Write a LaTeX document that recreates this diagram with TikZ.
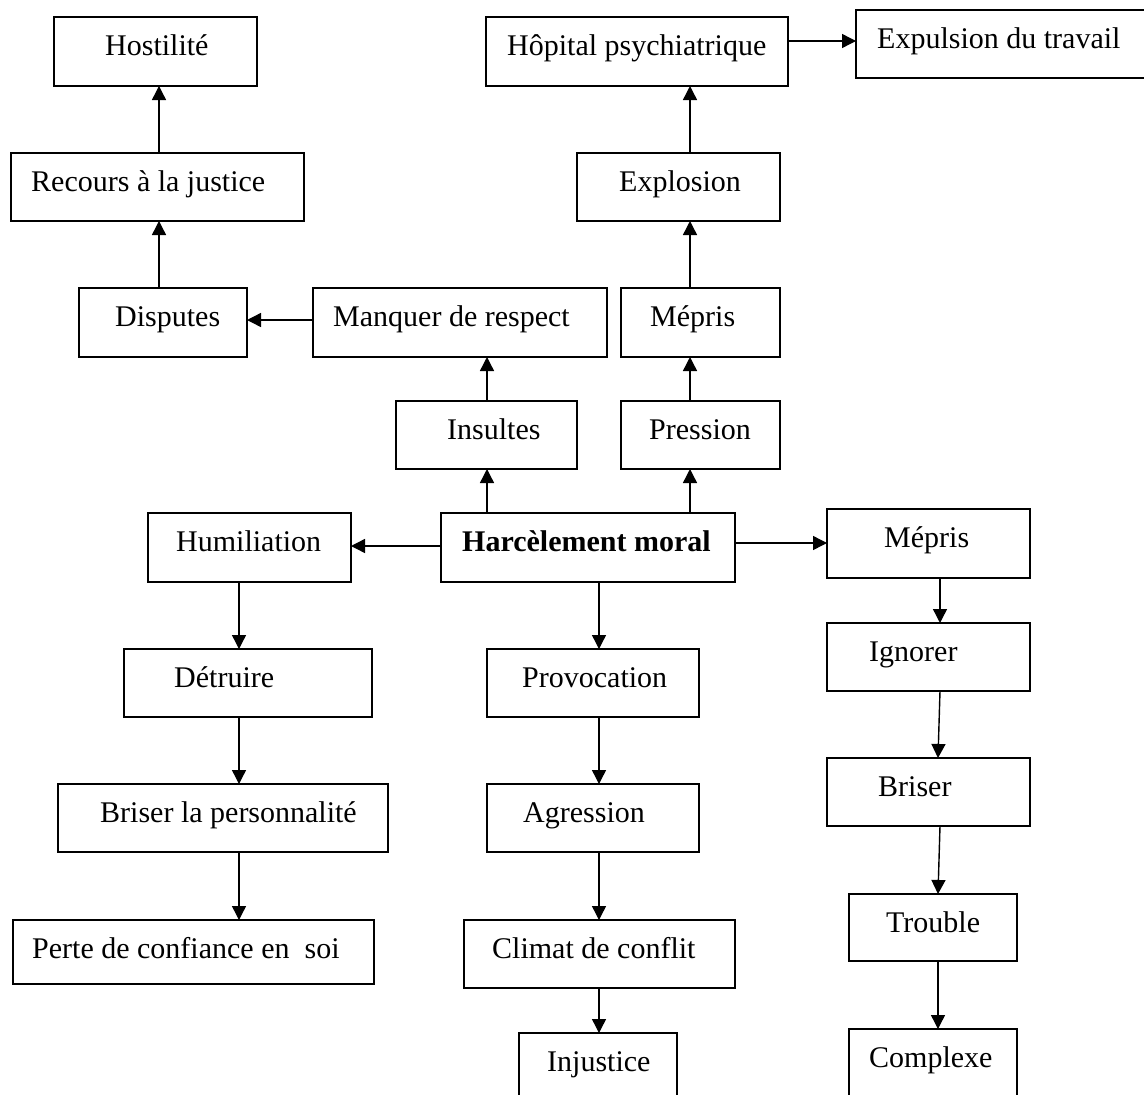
\documentclass[tikz,border=0pt]{standalone}
\usepackage{fontspec}
\setmainfont{Liberation Serif}
\usetikzlibrary{arrows.meta}
\newcommand\bxnode[7]{%
  \pgfmathsetmacro\bxcx{(#2+#4)/2}%
  \pgfmathsetmacro\bxcy{(#3+#5)/2}%
  \pgfmathsetmacro\bxw{#4-#2}%
  \pgfmathsetmacro\bxh{#5-#3}%
  \node[bx, minimum width=\bxw pt, minimum height=\bxh pt] (#1) at (\bxcx,\bxcy) {};%
  \node[lbl] (#1-t) at (#6,#3+38.5) {#7};%
}
\begin{document}
\begin{tikzpicture}[x=1pt,y=-1pt,
  bx/.style={draw=black, line width=1.7pt, inner sep=0pt, outer sep=0pt, fill=white},
  lbl/.style={anchor=base west, inner sep=0pt, font=\fontsize{30}{36}\selectfont},
  arr/.style={draw=black, line width=1.4pt, -{Triangle[length=14pt,width=14pt]}}]
\useasboundingbox (0,0) rectangle (1144,1095);
\clip (0,0) rectangle (1144,1095);
\fill[white] (0,0) rectangle (1144,1095);
% column and row guides
\coordinate (xA) at (159,0);
\coordinate (xB) at (239,0);
\coordinate (xC) at (487,0);
\coordinate (xD) at (599,0);
\coordinate (xE) at (690,0);
\coordinate (xF) at (940,0);
\coordinate (xG) at (938,0);
\coordinate (yH) at (0,41);
\coordinate (yP) at (0,320);
\coordinate (yL) at (0,546);
\coordinate (yR) at (0,543);
% boxes
\bxnode{host}{54}{17}{257}{86}{105}{Hostilité}
\bxnode{hop}{486}{17}{788}{86}{507}{Hôpital psychiatrique}
\bxnode{expu}{856}{10}{1170}{78}{877}{Expulsion du travail}
\bxnode{recours}{11}{153}{304}{221}{31}{Recours à la justice}
\bxnode{explo}{577}{153}{780}{221}{619}{Explosion}
\bxnode{disp}{79}{288}{247}{357}{115}{Disputes}
\bxnode{manq}{313}{288}{607}{357}{333}{Manquer de respect}
\bxnode{mep1}{621}{288}{780}{357}{650}{Mépris}
\bxnode{insu}{396}{401}{577}{469}{447}{Insultes}
\bxnode{pres}{621}{401}{780}{469}{649}{Pression}
\bxnode{humi}{148}{513}{351}{582}{176}{Humiliation}
\bxnode{harc}{441}{513}{735}{582}{462}{\textbf{Harcèlement moral}}
\bxnode{mep2}{827}{509}{1030}{578}{884}{Mépris}
\bxnode{detr}{124}{649}{372}{717}{174}{Détruire}
\bxnode{prov}{487}{649}{699}{717}{522}{Provocation}
\bxnode{igno}{827}{623}{1030}{691}{869}{Ignorer}
\bxnode{brpe}{58}{784}{388}{852}{100}{Briser la personnalité}
\bxnode{agre}{487}{784}{699}{852}{523}{Agression}
\bxnode{bris}{827}{758}{1030}{826}{878}{Briser}
\bxnode{perte}{13}{920}{374}{984}{32}{Perte de confiance en\ \ soi}
\bxnode{clim}{464}{920}{735}{988}{492}{Climat de conflit}
\bxnode{troub}{849}{894}{1017}{961}{886}{Trouble}
\bxnode{inju}{519}{1033}{677}{1130}{547}{Injustice}
\bxnode{compl}{849}{1029}{1017}{1130}{869}{Complexe}
% connectors
\draw[arr] (recours.north -| xA) -- (host.south -| xA);
\draw[arr] (disp.north -| xA) -- (recours.south -| xA);
\draw[arr] (manq.west |- yP) -- (disp.east |- yP);
\draw[arr] (insu.north -| xC) -- (manq.south -| xC);
\draw[arr] (harc.north -| xC) -- (insu.south -| xC);
\draw[arr] (harc.north -| xE) -- (pres.south -| xE);
\draw[arr] (pres.north -| xE) -- (mep1.south -| xE);
\draw[arr] (mep1.north -| xE) -- (explo.south -| xE);
\draw[arr] (explo.north -| xE) -- (hop.south -| xE);
\draw[arr] (hop.east |- yH) -- (expu.west |- yH);
\draw[arr] (harc.west |- yL) -- (humi.east |- yL);
\draw[arr] (harc.east |- yR) -- (mep2.west |- yR);
\draw[arr] (harc.south -| xD) -- (prov.north -| xD);
\draw[arr] (prov.south -| xD) -- (agre.north -| xD);
\draw[arr] (agre.south -| xD) -- (clim.north -| xD);
\draw[arr] (clim.south -| xD) -- (inju.north -| xD);
\draw[arr] (humi.south -| xB) -- (detr.north -| xB);
\draw[arr] (detr.south -| xB) -- (brpe.north -| xB);
\draw[arr] (brpe.south -| xB) -- (perte.north -| xB);
\draw[arr] (mep2.south -| xF) -- (igno.north -| xF);
\draw[arr] (igno.south -| xF) -- (bris.north -| xG);
\draw[arr] (bris.south -| xF) -- (troub.north -| xG);
\draw[arr] (troub.south -| xG) -- (compl.north -| xG);
\end{tikzpicture}
\end{document}
